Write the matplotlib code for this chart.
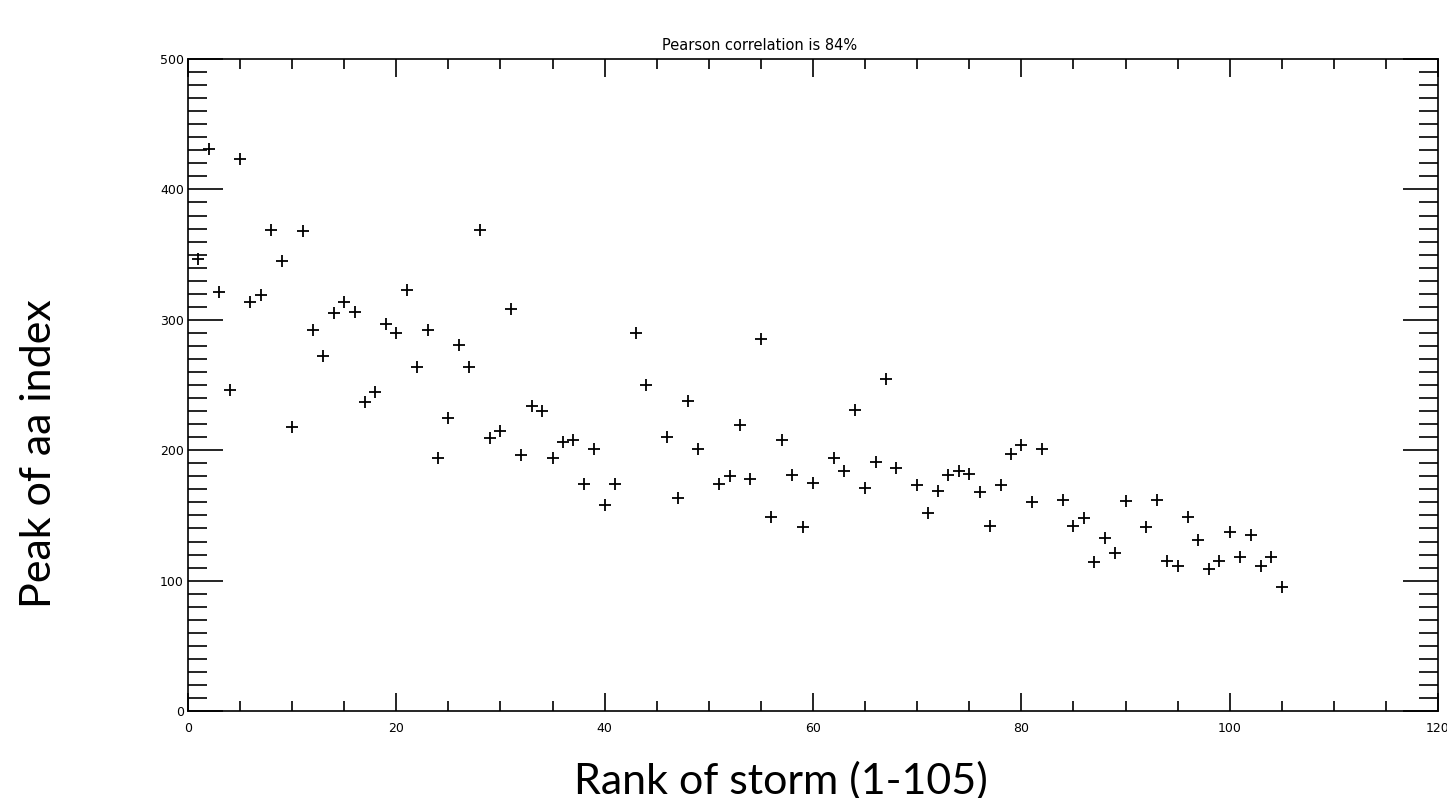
import matplotlib.pyplot as plt
from matplotlib.ticker import MultipleLocator

# rank of storm and peak aa index
rank = [1, 2, 3, 4, 5, 6, 7, 8, 9, 10,
        11, 12, 13, 14, 15, 16, 17, 18, 19, 20,
        21, 22, 23, 24, 25, 26, 27, 28, 29, 30,
        31, 32, 33, 34, 35, 36, 37, 38, 39, 40,
        41, 43, 44, 46, 47, 48, 49, 51, 52, 53,
        54, 55, 56, 57, 58, 59, 60, 62, 63, 64,
        65, 66, 67, 68, 70, 71, 72, 73, 74, 75,
        76, 77, 78, 79, 80, 81, 82, 84, 85, 86,
        87, 88, 89, 90, 92, 93, 94, 95, 96, 97,
        98, 99, 100, 101, 102, 103, 104, 105]
peak_aa = [347, 431, 321, 246, 423, 314, 319, 369, 345, 218,
           368, 292, 272, 305, 314, 306, 237, 245, 297, 290,
           323, 264, 292, 194, 225, 281, 264, 369, 209, 215,
           308, 196, 234, 230, 194, 206, 208, 174, 201, 158,
           174, 290, 250, 210, 163, 238, 201, 174, 180, 219,
           178, 285, 149, 208, 181, 141, 175, 194, 184, 231,
           171, 191, 255, 186, 173, 152, 169, 181, 184, 182,
           168, 142, 173, 197, 204, 160, 201, 162, 142, 148,
           114, 133, 121, 161, 141, 162, 115, 111, 149, 131,
           109, 115, 137, 118, 135, 111, 118, 95]

fig = plt.figure(figsize=(14.47, 7.98), dpi=100)
ax = fig.add_axes([0.1299, 0.109, 0.8639, 0.817])

ax.plot(rank, peak_aa, linestyle="none", marker="+", color="black",
        markersize=9, markeredgewidth=1.3)

ax.set_xlim(0, 120)
ax.set_ylim(0, 500)
ax.xaxis.set_major_locator(MultipleLocator(20))
ax.xaxis.set_minor_locator(MultipleLocator(5))
ax.yaxis.set_major_locator(MultipleLocator(100))
ax.yaxis.set_minor_locator(MultipleLocator(10))

ax.tick_params(axis="x", which="major", direction="in", length=13, width=1.2,
               top=True, bottom=True, labelsize=9, pad=8)
ax.tick_params(axis="x", which="minor", direction="in", length=7, width=1.2,
               top=True, bottom=True)
ax.tick_params(axis="y", which="major", direction="in", length=25, width=1.2,
               left=True, right=True, labelsize=9, pad=3)
ax.tick_params(axis="y", which="minor", direction="in", length=14, width=1.2,
               left=True, right=True)
for s in ax.spines.values():
    s.set_linewidth(1.2)

fig.text(760 / 1447, 1 - 45 / 798, "Pearson correlation is 84%",
         ha="center", va="center", fontsize=10.5)

fig.text(781 / 1447, 1 - 781 / 798, "Rank of storm (1-105)",
         ha="center", va="center", fontsize=31, family="Lato")
fig.text(39 / 1447, 1 - 454 / 798, "Peak of aa index", rotation=90,
         ha="center", va="center", fontsize=31, family="Lato")

fig.savefig("out.png", dpi=100)
